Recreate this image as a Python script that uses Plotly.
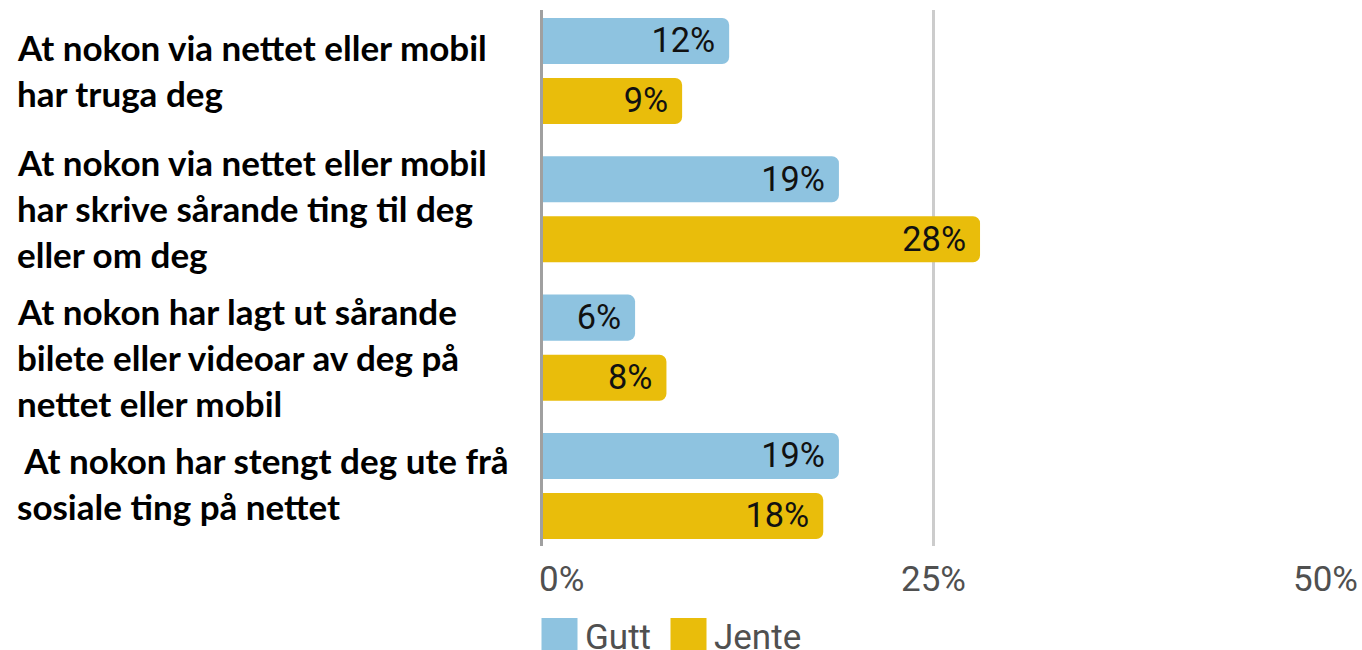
import plotly.graph_objects as go

# ---- data ----
CATEGORIES = [
    "At nokon via nettet eller mobil<br>har truga deg",
    "At nokon via nettet eller mobil<br>har skrive sårande ting til deg<br>eller om deg",
    "At nokon har lagt ut sårande<br>bilete eller videoar av deg på<br>nettet eller mobil",
    "\u00a0At nokon har stengt deg ute frå<br>sosiale ting på nettet",
]
SERIES_NAMES = ["Gutt", "Jente"]
GUTT = [12, 19, 6, 19]
JENTE = [9, 28, 8, 18]
TICK_VALUES = [0, 25, 50]
TICK_TEXT = ["0%", "25%", "50%"]

COLORS = {"Gutt": "#8EC3E0", "Jente": "#E9BD0B"}

W, H = 1362, 650
ML, MR, MT, MB = 541, 37, 10, 104
PW = W - ML - MR
PH = H - MT - MB

idx = list(range(len(CATEGORIES)))

fig = go.Figure()
for name, vals in zip(SERIES_NAMES, [GUTT, JENTE]):
    fig.add_trace(go.Bar(
        name=name,
        y=idx,
        x=vals,
        orientation="h",
        marker=dict(color=COLORS[name], line=dict(width=0), cornerradius=7),
        texttemplate="%{x}%\u2009",
        textposition="inside",
        insidetextanchor="end",
        constraintext="none",
        textfont=dict(family="Roboto", size=36, color="#111111"),
        showlegend=False,
        hoverinfo="skip",
    ))

annotations = []
# category labels (one annotation per line)
LINE_PITCH = 46
LABEL_NUDGE = [-1, -1, 9, -3]  # small vertical nudges (px, positive = down)
for i, cat in enumerate(CATEGORIES):
    lines = cat.split("<br>")
    n = len(lines)
    for j, line in enumerate(lines):
        annotations.append(dict(
            xref="paper", yref="y",
            x=(15 - ML) / PW, y=i,
            xanchor="left", yanchor="middle",
            yshift=((n - 1) / 2 - j) * LINE_PITCH - LABEL_NUDGE[i],
            text="<b>" + line + "</b>",
            showarrow=False,
            font=dict(family="Lato", size=35, color="#000000"),
        ))

# tick labels
for k, (tv, tt) in enumerate(zip(TICK_VALUES, TICK_TEXT)):
    annotations.append(dict(
        xref="x", yref="paper",
        x=tv, y=0,
        xanchor="left" if k == 0 else "center",
        xshift=-4 if k == 0 else 0,
        yanchor="middle", yshift=-33,
        text=tt, showarrow=False,
        font=dict(family="Roboto", size=35, color="#505050"),
    ))

# legend (manual, large swatches)
shapes = []
leg_x = [541.5, 670.5]
for name, lx in zip(SERIES_NAMES, leg_x):
    shapes.append(dict(
        type="rect", xref="paper", yref="paper",
        x0=(lx - ML) / PW, x1=(lx + 36 - ML) / PW,
        y0=(MT + PH - 618) / PH, y1=(MT + PH - 654) / PH,
        fillcolor=COLORS[name], line=dict(width=0), layer="above",
    ))
    annotations.append(dict(
        xref="paper", yref="paper",
        x=(lx + 41 - ML) / PW, y=(MT + PH - 637) / PH,
        xanchor="left", yanchor="middle",
        text=name, showarrow=False,
        font=dict(family="Roboto", size=35, color="#505050"),
    ))

fig.update_layout(
    width=W, height=H,
    margin=dict(l=ML, r=MR, t=MT, b=MB, autoexpand=False),
    paper_bgcolor="white", plot_bgcolor="white",
    barmode="group", bargap=0.132, bargroupgap=0.233,
    annotations=annotations, shapes=shapes,
    showlegend=False,
)
fig.update_xaxes(
    range=[0, 50], tickvals=TICK_VALUES, showticklabels=False,
    showgrid=True, gridcolor="#CCCCCC", gridwidth=3,
    zeroline=True, zerolinecolor="#A0A0A0", zerolinewidth=3,
    zerolinelayer="above traces",
    showline=False, ticks="",
)
fig.update_yaxes(
    type="linear", range=[3.434, -0.441],
    showticklabels=False, showgrid=False, zeroline=False, showline=False, ticks="",
)

fig.write_html(
    "out.html",
    config={"displayModeBar": False, "staticPlot": True},
    post_script="document.body.style.margin='0';document.body.style.overflow='hidden';",
)
